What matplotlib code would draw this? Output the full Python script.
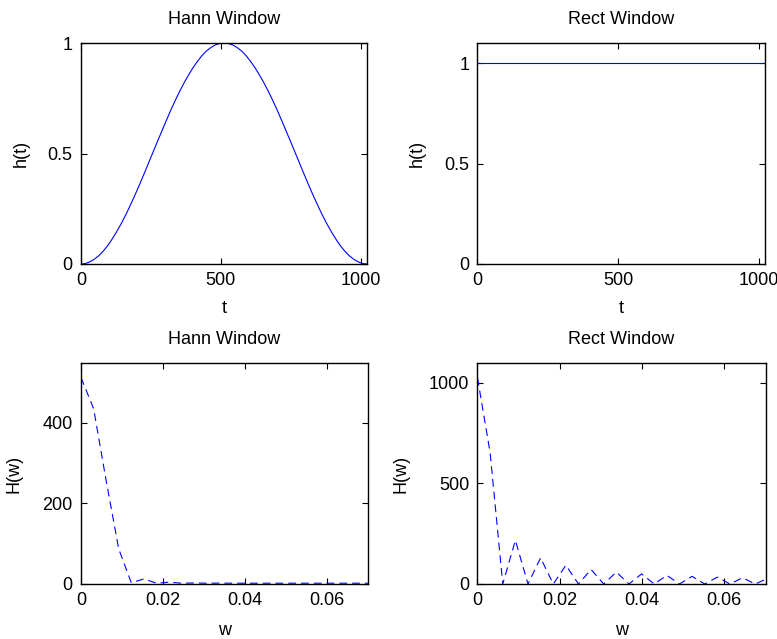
import matplotlib
matplotlib.use("Agg")
import matplotlib.pyplot as plt

plt.rcParams['font.family'] = ['Liberation Sans', 'DejaVu Sans']

# ---- data ----
t_hann = [0, 16, 32, 48, 64, 80, 96, 112, 128, 144, 160, 176, 192, 208, 224, 240, 256,
          272, 288, 304, 320, 336, 352, 368, 384, 400, 416, 432, 448, 464, 480, 496, 512,
          527, 543, 559, 575, 591, 607, 623, 639, 655, 671, 687, 703, 719, 735, 751, 767,
          783, 799, 815, 831, 847, 863, 879, 895, 911, 927, 943, 959, 975, 991, 1007, 1023]
h_hann = [0.000, 0.002, 0.010, 0.022, 0.038, 0.059, 0.084, 0.114, 0.147, 0.183, 0.222,
          0.265, 0.309, 0.355, 0.403, 0.452, 0.501, 0.550, 0.598, 0.646, 0.693, 0.737,
          0.779, 0.818, 0.854, 0.887, 0.916, 0.942, 0.963, 0.979, 0.991, 0.998, 1.000,
          0.998, 0.991, 0.979, 0.963, 0.942, 0.916, 0.887, 0.854, 0.818, 0.779, 0.737,
          0.693, 0.646, 0.598, 0.550, 0.501, 0.452, 0.403, 0.355, 0.309, 0.265, 0.222,
          0.183, 0.147, 0.114, 0.084, 0.059, 0.038, 0.022, 0.010, 0.002, 0.000]

t_rect = [0, 1023]
h_rect = [1.0, 1.0]

w_bins = [0.0, 0.00307, 0.00614, 0.00920, 0.01227, 0.01534, 0.01841, 0.02148, 0.02454,
          0.02761, 0.03068, 0.03375, 0.03682, 0.03988, 0.04295, 0.04602, 0.04909,
          0.05216, 0.05522, 0.05829, 0.06136, 0.06443, 0.06750, 0.07056]
H_hann = [512, 435, 256, 87, 3, 12.6, 2, 4.5, 2, 2.5, 2, 2.2, 2, 2, 2, 2, 2, 2, 2, 2, 2, 2, 2, 2]
H_rect = [1024, 652, 0, 217, 0, 130, 0, 93, 0, 72, 0, 59, 0, 50, 0, 43, 0, 38, 0, 34, 0, 31, 0, 28]

titles = ["Hann Window", "Rect Window", "Hann Window", "Rect Window"]

W, Hpx = 777, 639
fig = plt.figure(figsize=(W / 100, Hpx / 100), dpi=100)

def ax_at(l, t, r, b):
    return fig.add_axes([l / W, 1 - b / Hpx, (r - l) / W, (b - t) / Hpx])

ax1 = ax_at(81, 43, 367, 264)
ax2 = ax_at(477.5, 43, 765, 264)
ax3 = ax_at(81, 363, 368, 584)
ax4 = ax_at(477.5, 363, 765.5, 584)

blue = '#0000ff'
FS = 13

ax1.plot(t_hann, h_hann, color=blue, lw=0.8)
ax1.set_xlim(0, 1023)
ax1.set_ylim(0, 1)
ax1.set_xticks([0, 500, 1000])
ax1.set_yticks([0, 0.5, 1])
ax1.set_yticklabels(['0', '0.5', '1'])
ax1.set_xlabel('t', fontsize=FS, labelpad=8)
ax1.set_ylabel('h(t)', fontsize=FS, labelpad=13)

ax2.plot(t_rect, h_rect, color=blue, lw=0.8)
ax2.set_xlim(0, 1023)
ax2.set_ylim(0, 1.1)
ax2.set_xticks([0, 500, 1000])
ax2.set_yticks([0, 0.5, 1])
ax2.set_yticklabels(['0', '0.5', '1'])
ax2.set_xlabel('t', fontsize=FS, labelpad=8)
ax2.set_ylabel('h(t)', fontsize=FS, labelpad=13)

dash = (0, (7, 4.5))
ax3.plot(w_bins, H_hann, color=blue, lw=0.8, linestyle=dash)
ax3.set_xlim(0, 0.07)
ax3.set_ylim(0, 548)
ax3.set_xticks([0, 0.02, 0.04, 0.06])
ax3.set_xticklabels(['0', '0.02', '0.04', '0.06'])
ax3.set_yticks([0, 200, 400])
ax3.set_xlabel('w', fontsize=FS, labelpad=9)
ax3.set_ylabel('H(w)', fontsize=FS, labelpad=14)

ax4.plot(w_bins, H_rect, color=blue, lw=0.8, linestyle=dash)
ax4.set_xlim(0, 0.07)
ax4.set_ylim(0, 1098)
ax4.set_xticks([0, 0.02, 0.04, 0.06])
ax4.set_xticklabels(['0', '0.02', '0.04', '0.06'])
ax4.set_yticks([0, 500, 1000])
ax4.set_xlabel('w', fontsize=FS, labelpad=9)
ax4.set_ylabel('H(w)', fontsize=FS, labelpad=14)

for ax, ttl in zip([ax1, ax2, ax3, ax4], titles):
    ax.set_title(ttl, fontsize=FS, pad=14)
    ax.tick_params(direction='in', top=True, right=True, length=4, width=0.8,
                   labelsize=FS, pad=6, colors='black')
    for s in ax.spines.values():
        s.set_linewidth(1.0)
        s.set_color('black')

fig.savefig('out.png', dpi=100)
